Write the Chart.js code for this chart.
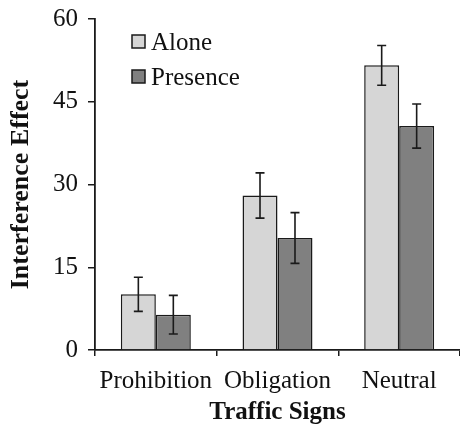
<!DOCTYPE html>
<html>
<head>
<meta charset="utf-8">
<script src="https://cdn.jsdelivr.net/npm/chart.js@4/dist/chart.umd.min.js"></script>
<style>
  body { margin: 0; background: #fff; }
  #wrap { width: 460px; height: 428px; }
</style>
</head>
<body>
<div id="wrap"><canvas id="myChart" width="460" height="428"></canvas></div>
<script>
var signs = ["Prohibition", "Obligation", "Neutral"];
var aloneValues = [10.1, 28.0, 51.6];
var aloneErrors = [3.1, 4.1, 3.6];
var presenceValues = [6.4, 20.3, 40.6];
var presenceErrors = [3.5, 4.6, 4.0];
var yTicks = [0, 15, 30, 45, 60];

var serif = "'Liberation Serif', 'Times New Roman', serif";

// error bars drawn from the arrays above through the scales
var errorBars = {
  id: "errorBars",
  afterDatasetsDraw: function (chart) {
    var ctx = chart.ctx;
    var y = chart.scales.y;
    ctx.save();
    ctx.strokeStyle = "#1a1a1a";
    ctx.lineWidth = 1.6;
    chart.data.datasets.forEach(function (ds, di) {
      var meta = chart.getDatasetMeta(di);
      meta.data.forEach(function (bar, i) {
        var v = ds.data[i];
        var e = ds.errors[i];
        var top = y.getPixelForValue(v + e);
        var bot = y.getPixelForValue(v - e);
        ctx.beginPath();
        ctx.moveTo(bar.x, top);
        ctx.lineTo(bar.x, bot);
        ctx.moveTo(bar.x - 4.5, top);
        ctx.lineTo(bar.x + 4.5, top);
        ctx.moveTo(bar.x - 4.5, bot);
        ctx.lineTo(bar.x + 4.5, bot);
        ctx.stroke();
      });
    });
    ctx.restore();
  }
};

// legend sitting inside the plot, top left
var innerLegend = {
  id: "innerLegend",
  afterDraw: function (chart) {
    var ctx = chart.ctx;
    var area = chart.chartArea;
    ctx.save();
    ctx.font = "25px " + serif;
    ctx.textBaseline = "middle";
    chart.data.datasets.forEach(function (ds, i) {
      var cy = area.top + 23 + i * 35;
      var bx = area.left + 37;
      ctx.fillStyle = ds.backgroundColor;
      ctx.fillRect(bx, cy - 7, 13, 13);
      ctx.strokeStyle = "#1a1a1a";
      ctx.lineWidth = 1.5;
      ctx.strokeRect(bx, cy - 7, 13, 13);
      ctx.fillStyle = "#111";
      ctx.fillText(ds.label, bx + 19, cy + 1);
    });
    ctx.restore();
  }
};

new Chart("myChart", {
  type: "bar",
  data: {
    labels: signs,
    datasets: [
      {
        label: "Alone",
        data: aloneValues,
        errors: aloneErrors,
        backgroundColor: "#d6d6d6",
        borderColor: "#1a1a1a",
        borderWidth: 1.5
      },
      {
        label: "Presence",
        data: presenceValues,
        errors: presenceErrors,
        backgroundColor: "#808080",
        borderColor: "#1a1a1a",
        borderWidth: 1.5
      }
    ]
  },
  options: {
    responsive: false,
    animation: false,
    layout: { padding: { top: 19, right: 0, left: 0, bottom: 0 } },
    datasets: { bar: { categoryPercentage: 0.575, barPercentage: 1 } },
    plugins: {
      legend: { display: false },
      tooltip: { enabled: false }
    },
    scales: {
      x: {
        grid: { display: true, drawOnChartArea: false, offset: true, tickLength: 6, color: "#1a1a1a", lineWidth: 1.5 },
        border: { color: "#1a1a1a", width: 1.8 },
        ticks: { color: "#111", font: { family: serif, size: 25 }, padding: 10, maxRotation: 0 },
        title: { display: true, text: "Traffic Signs", color: "#111", font: { family: serif, size: 25, weight: "bold" }, padding: { top: 0, bottom: 0 } },
        afterFit: function (scale) { scale.height = 78; scale.paddingLeft = 0; scale.paddingRight = 0; }
      },
      y: {
        min: 0,
        max: 60,
        afterBuildTicks: function (scale) {
          scale.ticks = yTicks.map(function (v) { return { value: v }; });
        },
        grid: { display: true, drawOnChartArea: false, tickLength: 7, color: "#1a1a1a", lineWidth: 1.5 },
        border: { color: "#1a1a1a", width: 1.8 },
        ticks: { color: "#111", font: { family: serif, size: 25 }, padding: 10 },
        title: { display: true, text: "Interference Effect", color: "#111", font: { family: serif, size: 26, weight: "bold" }, padding: { top: 6, bottom: 0 } },
        afterFit: function (scale) { scale.width = 95; scale.paddingTop = 0; scale.paddingBottom = 0; }
      }
    }
  },
  plugins: [errorBars, innerLegend]
});
</script>
</body>
</html>
